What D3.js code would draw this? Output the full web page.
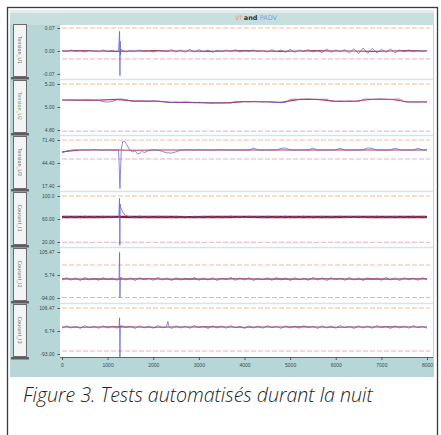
<!DOCTYPE html>
<html>
<head>
<meta charset="utf-8">
<script src="https://cdn.jsdelivr.net/npm/d3@7"></script>
<style>
  body { margin: 0; background: #fff; }
  svg { display: block; }
</style>
</head>
<body>
<div id="chart"></div>
<script>
const W = 441, H = 435;

// x axis ticks (samples)
const xTicks = [0, 1000, 2000, 3000, 4000, 5000, 6000, 7000, 8000];
const sampleStep = 100;
const refStep = 400;

// channel names (left buttons)
const panelNames = ["Tension_U1", "Tension_U2", "Tension_U3", "Courant_I1", "Courant_I2", "Courant_I3"];

// y tick labels per panel: top, middle, bottom
const yTickLabels = [
  ["0.07", "0.00", "-0.07"],
  ["5.20", "5.00", "4.80"],
  ["71.40", "44.40", "17.40"],
  ["100.0", "60.00", "20.00"],
  ["105.47", "5.74", "-94.00"],
  ["106.47", "6.74", "-93.00"]
];

// limits (orange = upper, pink = lower)
const upperLimits = [0.07, 5.20, 71.4, 100, 49, 106.47];
const lowerLimits = [-0.024, 4.79, 49.1, 19.5, -92, -80];

// measured signal (blue), one sample every 100
const measured = [
  [0.001,-0.002,0.003,-0.001,0.002,-0.003,0.002,0.000,-0.002,0.003,-0.001,0.002,-0.002,
   0.004,-0.003,0.002,-0.001,0.003,-0.002,0.001,-0.003,0.002,0.000,
   -0.002,0.004,-0.003,0.003,-0.004,0.005,-0.003,0.004,-0.002,0.003,
   -0.004,0.002,-0.001,0.003,-0.002,0.004,-0.003,0.002,-0.001,0.003,
   -0.002,0.001,-0.003,0.004,-0.002,0.003,-0.004,0.005,-0.004,0.003,
   -0.002,0.004,-0.003,0.002,-0.005,0.006,-0.004,0.003,-0.002,0.004,
   -0.006,0.007,-0.008,0.009,-0.007,0.008,-0.006,0.005,-0.004,0.006,
   -0.005,0.003,-0.002,0.003,-0.002,0.001,-0.001,0.002],
  [5.062,5.059,5.063,5.060,5.058,5.062,5.061,5.057,5.060,
   5.046,5.043,5.047,
   5.066,5.070,5.064,
   5.053,5.050,5.054,5.051,5.049,5.053,5.052,5.048,
   5.041,5.038,5.042,5.039,5.043,5.040,5.037,5.041,5.039,
   5.036,5.033,5.037,5.035,5.038,5.034,
   5.047,5.044,5.048,5.045,5.049,5.046,5.043,5.047,5.045,
   5.040,5.037,5.041,
   5.066,5.069,5.065,5.068,5.070,5.066,5.064,5.068,5.067,
   5.051,5.048,5.052,5.049,5.053,5.050,5.047,
   5.067,5.070,5.066,5.069,5.071,5.067,5.065,5.069,5.068,
   5.045,5.042,5.046,5.043,5.047,5.044],
  [56.5,58.5,59.6,59.9,59.5,59.8,59.6,60.0,59.7,59.4,59.8,59.6,59.7,
   62.0,66.0,64.0,58.0,55.5,56.5,59.0,59.8,
   59.5,58.0,56.3,56.0,57.5,59.4,59.9,
   59.7,59.5,60.0,59.6,59.8,59.4,59.7,60.1,59.6,59.8,59.5,59.9,59.7,
   59.6,61.8,59.8,59.5,59.7,
   59.9,59.6,61.6,62.0,59.8,
   59.5,59.7,59.9,59.6,61.9,
   59.7,59.5,59.8,59.6,59.9,
   61.7,59.6,59.8,59.4,59.7,
   59.9,62.1,61.5,59.6,59.8,
   59.5,59.7,61.8,59.9,59.6,
   59.8,59.5,61.6,59.7,59.9],
  [62.0,65.0,62.5,64.8,61.9,65.2,62.3,64.6,62.1,65.0,62.6,64.7,62.2,
   65.1,62.4,64.9,62.0,65.3,62.5,64.6,62.2,65.0,62.7,64.8,
   62.1,65.2,62.4,64.7,62.0,65.1,62.6,64.9,62.3,65.0,62.1,64.6,
   62.5,65.2,62.2,64.8,62.0,65.1,62.6,64.7,62.3,65.0,62.1,64.9,
   62.4,65.2,62.0,64.6,62.5,65.1,62.2,64.8,62.6,65.0,62.1,64.7,
   62.3,65.2,62.0,64.9,62.5,65.0,62.2,64.6,62.4,65.1,62.1,64.8,
   62.6,65.0,62.3,64.7,62.0,65.2,62.5,64.9,62.2],
  [-17,-6,-16,-7,-18,-5,-16,-8,-17,-6,-15,-7,-17,
   -5,-16,-7,-18,-6,-15,-8,-17,-5,-16,-7,
   -18,-6,-16,-8,-15,-5,-17,-7,-16,-6,-18,-8,
   -15,-5,-17,-7,-16,-6,-18,-8,-15,-6,-17,-5,
   -16,-7,-18,-6,-15,-8,-17,-5,-16,-7,-18,-6,
   -15,-8,-17,-5,-16,-7,-18,-6,-15,-8,-17,-5,
   -16,-7,-18,-6,-15,-8,-17,-6,-16],
  [19,29,20,28,18,30,21,27,19,29,20,28,19,
   30,21,27,18,29,20,28,19,30,21,27,
   18,29,20,28,19,30,21,27,18,29,20,28,
   19,30,21,27,18,29,20,28,19,30,21,27,
   18,29,20,28,19,30,21,27,18,29,20,28,
   19,30,21,27,18,29,20,28,19,30,21,27,
   18,29,20,28,19,30,21,27,19]
];

// transients recorded at higher rate: [sample, value]
const transients = [
  [[[1240,0.002],[1262,0.06],[1270,-0.075],[1276,0.03],[1282,-0.012],[1290,0.004]]],
  [],
  [[[1240,59.6],[1252,45],[1262,25],[1270,14.5],[1280,30],[1300,60],[1330,69.5],[1370,70.2],
    [1420,66],[1480,60],[1540,57.5],[1600,58.8],[1650,55.5],[1700,55.2],[1760,58.5]]],
  [[[1245,63.5],[1260,96],[1268,14],[1276,86],[1290,80],[1330,72],[1380,67],[1440,65],[1490,63.8]]],
  [[[1250,-11],[1262,104],[1270,-93],[1278,-5],[1290,-12]]],
  [[[1250,24],[1262,64],[1270,-107],[1278,30],[1290,23]],
   [[2290,24],[2320,48],[2350,24]]]
];

// reference signal (red), one sample every 400
const reference = [
  [0.000,0.001,0.000,-0.001,0.000,0.001,0.000,0.000,-0.001,0.000,0.001,0.000,-0.001,0.000,0.001,0.000,0.000,-0.001,0.000,0.001,0.000],
  [5.061,5.060,5.060,5.066,5.051,5.052,5.040,5.040,5.036,5.036,5.047,5.046,5.040,5.066,5.066,5.049,5.050,5.067,5.067,5.044,5.044],
  [57.5,59.6,59.7,59.6,59.4,59.6,59.7,59.6,59.6,59.7,59.6,59.7,59.6,59.7,59.6,59.7,59.6,59.7,59.6,59.7,59.6],
  [63.6,63.4,63.5,63.7,63.4,63.6,63.5,63.3,63.6,63.5,63.7,63.4,63.5,63.6,63.4,63.5,63.7,63.5,63.4,63.6,63.5],
  [-11,-12,-11,-12,-11,-11,-12,-11,-12,-11,-11,-12,-11,-12,-11,-11,-12,-11,-12,-11,-11],
  [24,23,24,25,24,23,24,24,25,24,23,24,24,25,24,23,24,24,25,24,24]
];

const svg = d3.select("#chart").append("svg")
  .attr("width", W).attr("height", H)
  .style("font-family", "'DejaVu Sans', sans-serif");

svg.append("rect").attr("width", W).attr("height", H).attr("fill", "#fff");

// window frame
svg.append("rect")
  .attr("x", 10).attr("y", 10).attr("width", 424).attr("height", 367)
  .attr("fill", "#b6d6d7");
svg.append("rect")
  .attr("x", 10).attr("y", 10).attr("width", 424).attr("height", 15)
  .attr("fill", "#c8dfdf");
svg.append("rect")
  .attr("x", 10).attr("y", 10).attr("width", 424).attr("height", 3)
  .attr("fill", "#e2ecea");

// plot area
const plot = { left: 60, top: 25, right: 433, bottom: 357 };
svg.append("rect")
  .attr("x", plot.left).attr("y", plot.top)
  .attr("width", plot.right - plot.left).attr("height", plot.bottom - plot.top)
  .attr("fill", "#fff");

// legend title
const legend = svg.append("text")
  .attr("x", 256).attr("y", 20)
  .attr("text-anchor", "middle")
  .attr("font-size", 6.5);
legend.append("tspan").attr("fill", "#e8a070").text("Vf ");
legend.append("tspan").attr("fill", "#333").attr("font-weight", "bold").text("and ");
legend.append("tspan").attr("fill", "#7a9ee0").text("PADV");

const x = d3.scaleLinear().domain([0, 8000]).range([62, 427]);

const panelPitch = 56, panelHeight = 46, firstTop = 28;

// build the blue series: base samples with transients spliced in
function buildSeries(values, segs) {
  let pts = values.map((v, i) => [i * sampleStep, v]);
  segs.forEach(seg => {
    const t0 = seg[0][0], t1 = seg[seg.length - 1][0];
    pts = pts.filter(p => p[0] < t0 || p[0] > t1).concat(seg);
  });
  return pts.sort((a, b) => a[0] - b[0]);
}

panelNames.forEach((name, i) => {
  const top = firstTop + i * panelPitch;
  const labels = yTickLabels[i];
  const hi = +labels[0], mid = +labels[1], lo = +labels[2];
  const y = d3.scaleLinear().domain([lo, hi]).range([top + panelHeight, top]);

  // separator between panels
  if (i > 0) {
    svg.append("line")
      .attr("x1", plot.left).attr("x2", plot.right)
      .attr("y1", top - 4.5).attr("y2", top - 4.5)
      .attr("stroke", "#d3e6e6").attr("stroke-width", 1.5);
  }

  // channel button
  svg.append("rect")
    .attr("x", 13.5).attr("y", top - 3.5)
    .attr("width", 13).attr("height", 52)
    .attr("fill", "#f3f5f5").attr("stroke", "#6b6b6b").attr("stroke-width", 1);
  svg.append("rect")
    .attr("x", 11).attr("y", top + 49)
    .attr("width", 18).attr("height", 2.5)
    .attr("fill", "#5e5e5e");
  svg.append("text")
    .attr("transform", `translate(18,${top + 22}) rotate(90)`)
    .attr("text-anchor", "middle")
    .attr("font-size", 5)
    .attr("fill", i === 1 ? "#6f9a5a" : "#667066")
    .text(name);

  // y axis
  const ya = svg.append("g")
    .attr("transform", `translate(${plot.left},0)`)
    .call(d3.axisLeft(y).tickValues([hi, mid, lo]).tickSize(2.5)
      .tickFormat((d, k) => labels[k]));
  ya.select(".domain").remove();
  ya.selectAll("line").attr("stroke", "#556");
  ya.selectAll("text").attr("font-size", 5).attr("fill", "#3d4a55");

  // limits
  svg.append("line")
    .attr("x1", 62).attr("x2", 430)
    .attr("y1", y(upperLimits[i])).attr("y2", y(upperLimits[i]))
    .attr("stroke", "#f3a46c").attr("stroke-opacity", 0.75).attr("stroke-width", 1)
    .attr("stroke-dasharray", "5,2");
  svg.append("line")
    .attr("x1", 62).attr("x2", 430)
    .attr("y1", y(lowerLimits[i])).attr("y2", y(lowerLimits[i]))
    .attr("stroke", "#e590b8").attr("stroke-opacity", 0.75).attr("stroke-width", 1)
    .attr("stroke-dasharray", "5,2");

  const line = d3.line().x(d => x(d[0])).y(d => y(d[1]));

  // reference (red)
  const ref = reference[i].map((v, k) => [k * refStep, v]);
  svg.append("path")
    .datum(ref)
    .attr("fill", "none")
    .attr("stroke", i === 3 ? "#8e1b24" : "#c0394a")
    .attr("stroke-width", i === 3 ? 2.4 : 1.1)
    .attr("d", line);

  // measured (blue)
  svg.append("path")
    .datum(buildSeries(measured[i], transients[i]))
    .attr("fill", "none")
    .attr("stroke", "#6660cc")
    .attr("stroke-opacity", 0.75)
    .attr("stroke-width", 1)
    .attr("d", line);
});

// x axis
const xa = svg.append("g")
  .attr("transform", `translate(0,${plot.bottom})`)
  .call(d3.axisBottom(x).tickValues(xTicks).tickSize(3).tickFormat(d3.format("d")));
xa.select(".domain").attr("d", `M${plot.left},0.5H${plot.right}`).attr("stroke", "#667");
xa.selectAll("line").attr("stroke", "#556");
xa.selectAll("text").attr("font-size", 5).attr("fill", "#3d4a55");

// outer figure frame
svg.append("rect")
  .attr("x", 7.5).attr("y", 7.5).attr("width", 430).attr("height", 440)
  .attr("fill", "none").attr("stroke", "#3a3a3a").attr("stroke-width", 1.3);

// caption
svg.append("text")
  .attr("x", 23).attr("y", 402)
  .attr("font-family", "'Open Sans', sans-serif")
  .attr("font-style", "italic")
  .attr("font-weight", 300)
  .attr("font-size", 19.6)
  .attr("fill", "#222")
  .text("Figure 3. Tests automatisés durant la nuit");
</script>
</body>
</html>
